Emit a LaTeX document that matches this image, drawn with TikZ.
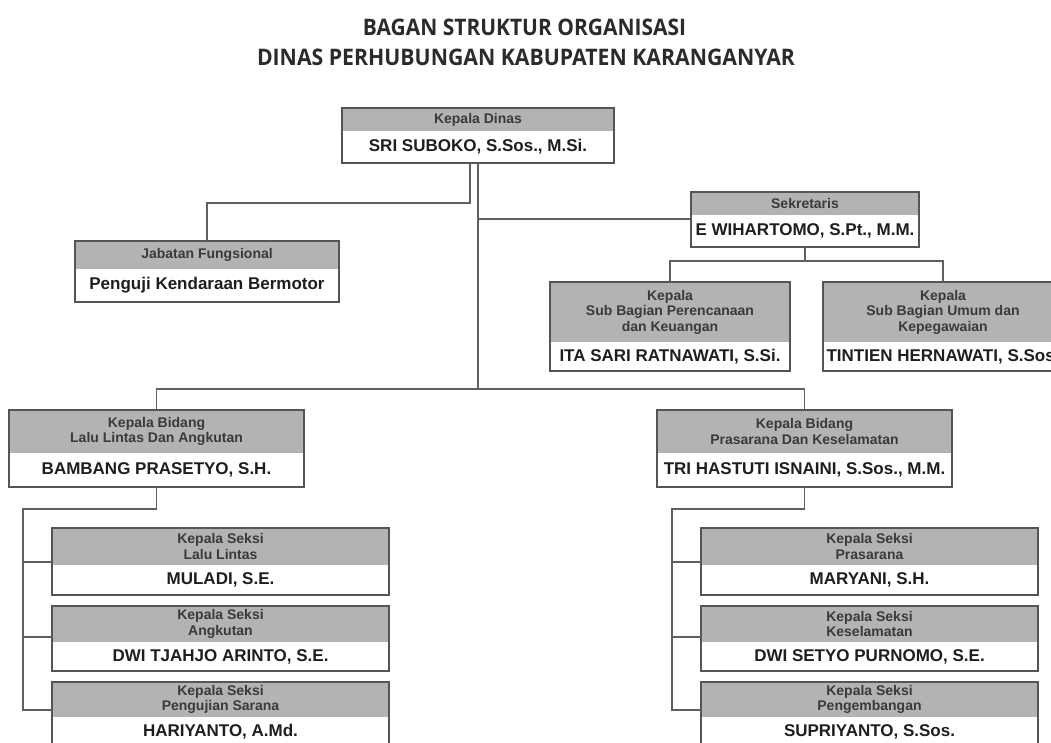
\documentclass[tikz,border=0pt]{standalone}
\usepackage{graphicx}
\usepackage{fontspec}
\setmainfont{Liberation Sans}
\newfontfamily\titlefont{Open Sans}
\usetikzlibrary{calc}
\definecolor{hdrfill}{HTML}{B3B3B3}
\definecolor{hdrtext}{HTML}{3A3A3A}
\definecolor{nametext}{HTML}{1E1E1E}
\definecolor{framecol}{HTML}{555555}
\definecolor{linecol}{HTML}{5F5F5F}
\definecolor{titlecol}{HTML}{2B2B2B}
\tikzset{
  hdr/.style={fill=hdrfill, inner sep=0pt, outer sep=0pt, align=center, text=hdrtext,
    font=\fontsize{14}{15.5}\selectfont\bfseries},
  nm/.style={fill=white, inner sep=0pt, outer sep=0pt, align=center, text=nametext,
    font=\fontsize{17}{20}\selectfont\bfseries},
  frame/.style={draw=framecol, line width=1.6pt},
  conn/.style={draw=linecol, line width=1.6pt},
  ttl/.style={inner sep=0pt, outer sep=0pt, text=titlecol}
}
\newcommand\orgbox[8]{%
  \node[hdr, minimum width=#4, minimum height=#5, anchor=north] (#1h) at (#2,#3) {#7};
  \node[nm, minimum width=#4, minimum height=#6, anchor=north] (#1n) at (#1h.south) {#8};
  \draw[frame] (#1h.north west) rectangle (#1n.south east);
}
\begin{document}
\begin{tikzpicture}[x=1pt,y=-1pt]
\useasboundingbox (0,0) rectangle (1051,742);
\fill[white] (0,0) rectangle (1051,742);
\clip (0,0) rectangle (1051,742);

% title
\node[ttl, anchor=base] (t1) at (524.5,35) {\resizebox{323pt}{16.5pt}{\titlefont\bfseries BAGAN STRUKTUR ORGANISASI}};
\node[ttl, anchor=base] (t2) at (526,65) {\resizebox{538pt}{16.5pt}{\titlefont\bfseries DINAS PERHUBUNGAN KABUPATEN KARANGANYAR}};

% boxes
\orgbox{kd}{478}{108}{272}{23}{32}{Kepala Dinas}{SRI SUBOKO, S.Sos., M.Si.}
\orgbox{jf}{207}{241}{264}{28}{33}{Jabatan Fungsional}{Penguji Kendaraan Bermotor}
\orgbox{sk}{805}{192}{228}{23}{32}{Sekretaris}{E WIHARTOMO, S.Pt., M.M.}
\orgbox{sba}{670}{282}{240}{60}{29}{Kepala\\Sub Bagian Perencanaan\\dan Keuangan}{ITA SARI RATNAWATI, S.Si.}
\orgbox{sbb}{943}{282}{240}{60}{29}{Kepala\\Sub Bagian Umum dan\\Kepegawaian}{TINTIEN HERNAWATI, S.Sos.}
\orgbox{bda}{156.5}{410}{295}{43}{34}{Kepala Bidang\\Lalu Lintas Dan Angkutan}{BAMBANG PRASETYO, S.H.}
\orgbox{bdb}{804.5}{410}{295}{43}{34}{Kepala Bidang\\Prasarana Dan Keselamatan}{TRI HASTUTI ISNAINI, S.Sos., M.M.}
\orgbox{sla}{220.5}{528}{337}{37}{30}{Kepala Seksi\\Lalu Lintas}{MULADI, S.E.}
\orgbox{slb}{220.5}{606}{337}{36}{29}{Kepala Seksi\\Angkutan}{DWI TJAHJO ARINTO, S.E.}
\orgbox{slc}{220.5}{682}{337}{35}{30}{Kepala Seksi\\Pengujian Sarana}{HARIYANTO, A.Md.}
\orgbox{sra}{869.5}{528}{337}{37}{30}{Kepala Seksi\\Prasarana}{MARYANI, S.H.}
\orgbox{srb}{869.5}{606}{337}{36}{29}{Kepala Seksi\\Keselamatan}{DWI SETYO PURNOMO, S.E.}
\orgbox{src}{869.5}{682}{337}{35}{30}{Kepala Seksi\\Pengembangan}{SUPRIYANTO, S.Sos.}

% connectors
\draw[conn] ([xshift=-8pt]kdn.south) -- ++(0,40) -| (jfh.north);
\draw[conn] (kdn.south) |- ([yshift=-4pt]skh.south west);
\draw[conn] (kdn.south) -- ++(0,226);
\draw[conn] (bdah.north) -- ++(0,-21) -| (bdbh.north);
\draw[conn] (skn.south) -- ++(0,14);
\draw[conn] (sbah.north) -- ++(0,-21) -| (sbbh.north);
\draw[conn] (bdan.south) -- ++(0,22) -| ([xshift=-29pt,yshift=7pt]slch.south west) -- ([yshift=7pt]slch.south west);
\draw[conn] ([xshift=-29pt,yshift=3pt]slah.south west) -- ([yshift=3pt]slah.south west);
\draw[conn] ([xshift=-29pt,yshift=5pt]slbh.south west) -- ([yshift=5pt]slbh.south west);
\draw[conn] (bdbn.south) -- ++(0,22) -| ([xshift=-29pt,yshift=7pt]srch.south west) -- ([yshift=7pt]srch.south west);
\draw[conn] ([xshift=-29pt,yshift=3pt]srah.south west) -- ([yshift=3pt]srah.south west);
\draw[conn] ([xshift=-29pt,yshift=5pt]srbh.south west) -- ([yshift=5pt]srbh.south west);
\end{tikzpicture}
\end{document}
